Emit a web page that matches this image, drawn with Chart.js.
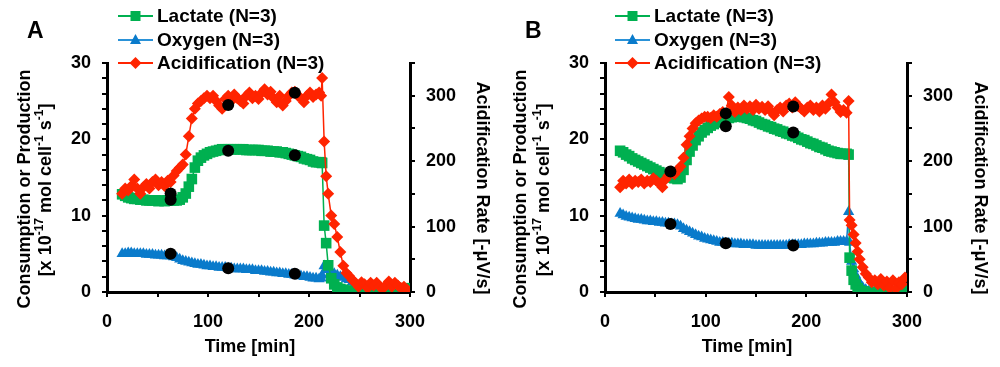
<!DOCTYPE html>
<html>
<head>
<meta charset="utf-8">
<script src="https://cdn.jsdelivr.net/npm/chart.js@4.4.1/dist/chart.umd.min.js"></script>
<style>
  html, body { margin: 0; padding: 0; background: #fff; }
  #wrap { position: relative; width: 1000px; height: 367px; }
  .panel { position: absolute; top: 0; width: 500px; height: 367px; }
</style>
</head>
<body>
<div id="wrap">
  <div class="panel" style="left:0"><canvas id="cA" width="500" height="367"></canvas></div>
  <div class="panel" style="left:500px"><canvas id="cB" width="500" height="367"></canvas></div>
</div>
<script>
// ---------------- DATA ----------------
const seriesLabels = ['Lactate (N=3)', 'Oxygen (N=3)', 'Acidification (N=3)'];
const xTickLabels = [0, 100, 200, 300];
const leftTickLabels = [0, 10, 20, 30];
const rightTickLabels = [0, 100, 200, 300];

// Panel A
const timeA = [15,18,21,24,27,30,33,36,39,42, 45,48,51,54,57,60,63,66,69,72,
  75,78,81,84,87,90,93,96,99,102, 105,108,111,114,117,120,123,126,129,132,
  135,138,141,144,147,150,153,156,159,162, 165,168,171,174,177,180,183,186,189,192,
  195,198,201,204,207,210,212,213,215,217, 219,222,225,228,231,234,237,240,243,246,
  249,252,255,258,261,264,267,270,273,276, 279,282,285,288,291,294,297];
const lactateA = [12.8,12.6,12.4,12.3,12.2,12.2,12.1,12.1,12.0,12.0,
  12.0,12.0,11.9,12.0,11.9,12.0,12.0,12.0,12.0,12.1,
  12.4,12.9,13.8,14.8,16.3,17.2,17.6,17.9,18.1,18.3,
  18.4,18.5,18.6,18.7,18.7,18.7,18.7,18.7,18.7,18.7,
  18.7,18.6,18.6,18.6,18.6,18.6,18.5,18.5,18.5,18.4,
  18.4,18.4,18.3,18.3,18.2,18.1,18.0,17.9,17.8,17.7,
  17.5,17.4,17.3,17.1,17.0,17.0,17.0,16.9,8.7,6.4,
  3.5,1.8,1.0,0.6,0.4,0.3,0.2,0.1,0.1,0.0,
  0.0,0.0,0.0,0.0,0.0,0.0,0.0,0.0,0.0,0.0,
  0.0,0.1,0.2,0.3,0.4,0.3,0.5];
const oxygenA = [5.0,5.0,5.1,5.1,5.0,5.0,5.0,5.0,4.9,4.9,
  4.9,4.8,4.8,4.8,4.7,4.7,4.7,4.6,4.5,4.3,
  4.1,4.0,3.9,3.8,3.7,3.6,3.6,3.5,3.4,3.4,
  3.3,3.3,3.2,3.2,3.2,3.1,3.1,3.0,3.0,3.0,
  3.0,2.9,2.9,2.9,2.8,2.8,2.8,2.7,2.7,2.6,
  2.6,2.5,2.5,2.4,2.4,2.3,2.3,2.2,2.2,2.1,
  2.0,2.0,1.9,1.8,1.8,1.7,1.8,2.2,3.4,3.0,
  2.9,2.6,2.4,2.2,2.0,1.9,1.7,1.6,1.3,1.1,
  0.7,0.4,0.2,0.1,0.0,0.0,0.0,0.0,0.0,0.0,
  0.0,0.0,null,null,null,null,null];
const acidA = [150,158,155,162,172,158,150,160,165,158,
  168,172,163,168,162,170,168,178,185,190,
  195,210,238,265,280,288,292,296,300,296,
  300,292,285,280,295,300,292,302,296,292,
  288,300,305,296,300,295,304,310,302,306,
  296,290,300,285,292,300,305,306,300,296,
  290,300,305,298,302,305,300,327,230,177,
  150,117,104,84,61,40,29,24,18,14,
  8,15,12,6,14,10,14,8,5,10,
  16,8,14,10,6,8,4];
const dotTimeA = [63,63,63,120,120,120,186,186,186];
const dotValueA = [12.9,12.1,5.0,24.5,18.5,3.1,26.1,17.9,2.4];

// Panel B
const timeB = [15,18,21,24,27,30,33,36,39,42, 45,48,51,54,57,60,63,66,69,72,
  75,78,81,84,87,90,93,96,99,102, 105,108,111,114,117,120,123,126,129,132,
  135,138,141,144,147,150,153,156,159,162, 165,168,171,174,177,180,183,186,189,192,
  195,198,201,204,207,210,213,216,219,222, 225,228,231,234,237,240,242,243,245,247,
  249,251,253,256,259,262,265,268,271,274, 277,280,283,286,289,292,295,298];
const lactateB = [18.5,18.3,18.0,17.8,17.5,17.3,17.1,16.9,16.7,16.5,
  16.3,16.1,15.9,15.7,15.5,15.3,15.1,15.0,14.9,14.8,
  15.0,16.0,17.3,18.4,19.2,19.9,20.4,20.9,21.2,21.5,
  21.8,22.0,22.2,22.4,22.6,22.7,22.8,22.9,23.0,23.0,
  23.0,22.9,22.8,22.7,22.5,22.4,22.2,22.0,21.9,21.7,
  21.6,21.4,21.3,21.1,21.0,20.8,20.7,20.5,20.4,20.2,
  20.0,19.9,19.7,19.5,19.4,19.2,19.0,18.9,18.7,18.5,
  18.4,18.3,18.2,18.1,18.1,18.1,18.0,4.5,2.8,1.6,
  1.0,0.5,0.2,0.1,0.0,0.0,0.0,0.0,0.0,0.0,
  0.0,0.0,0.0,0.0,0.0,0.2,0.4,0.5];
const oxygenB = [10.3,10.1,9.9,9.8,9.7,9.6,9.5,9.5,9.4,9.3,
  9.3,9.2,9.2,9.1,9.1,9.0,9.0,8.9,8.9,8.8,
  8.6,8.3,8.1,7.9,7.7,7.5,7.3,7.2,7.0,6.9,
  6.8,6.7,6.6,6.5,6.5,6.4,6.4,6.4,6.3,6.3,
  6.3,6.2,6.2,6.2,6.2,6.1,6.1,6.1,6.1,6.1,
  6.1,6.1,6.1,6.1,6.1,6.1,6.2,6.2,6.2,6.2,
  6.2,6.3,6.3,6.3,6.3,6.4,6.4,6.4,6.5,6.5,
  6.5,6.5,6.6,6.6,6.6,6.6,10.5,6.5,4.0,3.0,
  2.2,1.6,1.1,0.6,0.3,0.1,0.0,0.0,0.0,0.0,
  0.0,0.0,0.0,0.0,null,null,null,null];
const acidB = [160,170,166,172,165,170,168,172,166,170,
  168,174,170,166,160,172,178,184,180,186,
  192,205,225,238,250,258,262,265,268,268,
  266,270,268,272,275,272,298,285,275,282,
  278,285,280,284,278,286,280,283,278,284,
  276,270,278,282,276,285,288,282,290,284,
  280,276,282,285,278,282,276,285,280,288,
  302,290,282,275,278,274,292,110,102,88,
  75,62,50,38,28,22,15,18,12,20,
  10,16,6,18,5,15,12,22];
const dotTimeB = [65,65,120,120,120,187,187,187];
const dotValueB = [15.8,8.9,23.4,21.7,6.4,24.3,20.9,6.1];

// ---------------- STYLE ----------------
const FONT = '"Liberation Sans", Arial, Helvetica, sans-serif';
const GREEN = '#00B050';
const BLUE = '#0A7BCB';
const RED = '#FF2400';
Chart.defaults.font.family = FONT;

function pts(t, v) { return t.map((x, i) => ({ x: x, y: v[i] })); }

function drawMarker(ctx, kind, cx, cy, color) {
  ctx.fillStyle = color;
  ctx.beginPath();
  if (kind === 'rect') {
    ctx.rect(cx - 5, cy - 5, 10, 10);
  } else if (kind === 'triangle') {
    ctx.moveTo(cx, cy - 6); ctx.lineTo(cx + 5.5, cy + 4); ctx.lineTo(cx - 5.5, cy + 4); ctx.closePath();
  } else {
    ctx.moveTo(cx, cy - 6); ctx.lineTo(cx + 6, cy); ctx.lineTo(cx, cy + 6); ctx.lineTo(cx - 6, cy); ctx.closePath();
  }
  ctx.fill();
}

function drawRich(ctx, parts) {
  const big = 'bold 18px ' + FONT, small = 'bold 12px ' + FONT;
  let w = 0;
  parts.forEach(p => { ctx.font = p.sup ? small : big; w += ctx.measureText(p.t).width; });
  let x = -w / 2;
  parts.forEach(p => {
    ctx.font = p.sup ? small : big;
    ctx.fillText(p.t, x, p.sup ? -6 : 0);
    x += ctx.measureText(p.t).width;
  });
}

const decor = {
  id: 'decor',
  afterDraw(chart, args, o) {
    const ctx = chart.ctx;
    ctx.save();
    ctx.fillStyle = '#000';
    // panel letter
    ctx.font = 'bold 23px ' + FONT;
    ctx.textAlign = 'left';
    ctx.textBaseline = 'alphabetic';
    ctx.fillText(o.letter, o.letterX, 38);
    // legend
    const kinds = ['rect', 'triangle', 'rectRot'];
    const cols = [GREEN, '#2A92D8', RED];
    const rows = [16, 40, 63];
    ctx.textBaseline = 'middle';
    for (let i = 0; i < 3; i++) {
      ctx.strokeStyle = cols[i];
      ctx.lineWidth = 2;
      ctx.beginPath();
      ctx.moveTo(o.legendX, rows[i]);
      ctx.lineTo(o.legendX + 35, rows[i]);
      ctx.stroke();
      drawMarker(ctx, kinds[i], o.legendX + 17.5, rows[i], i === 1 ? BLUE : cols[i]);
      ctx.fillStyle = '#000';
      ctx.font = 'bold 19px ' + FONT;
      ctx.textAlign = 'left';
      ctx.fillText(seriesLabels[i], o.legendX + 39, rows[i] + 1);
    }
    // left title (two lines)
    ctx.save();
    ctx.translate(o.yT1, 189);
    ctx.rotate(-Math.PI / 2);
    ctx.font = 'bold 18px ' + FONT;
    ctx.textAlign = 'center';
    ctx.fillText('Consumption or Production', 0, 0);
    ctx.restore();
    ctx.save();
    ctx.translate(o.yT2, 190);
    ctx.rotate(-Math.PI / 2);
    ctx.textAlign = 'left';
    drawRich(ctx, [{t: '[x 10'}, {t: '-17', sup: true}, {t: ' mol cell'}, {t: '-1', sup: true},
      {t: ' s'}, {t: '-1', sup: true}, {t: ']'}]);
    ctx.restore();
    // right title
    ctx.save();
    ctx.translate(o.rT, 188);
    ctx.rotate(Math.PI / 2);
    ctx.font = 'bold 18px ' + FONT;
    ctx.textAlign = 'center';
    ctx.fillText('Acidification Rate [-\u03BCV/s]', 0, 0);
    ctx.restore();
    // x title
    ctx.font = 'bold 18px ' + FONT;
    ctx.textAlign = 'center';
    ctx.fillText('Time [min]', o.xT, 347);
    ctx.restore();
  }
};

function makeChart(id, t, lac, oxy, acid, dt, dv, leftW, rightW, o) {
  const tickFont = { size: 18, weight: 'bold' };
  const grid = { drawOnChartArea: false, color: '#000', lineWidth: 2, tickLength: 5, tickWidth: 2, tickColor: '#000' };
  const border = { color: '#000', width: 3 };
  return new Chart(document.getElementById(id), {
    type: 'line',
    data: {
      datasets: [
        { label: 'points', data: pts(dt, dv), yAxisID: 'y', showLine: false,
          pointStyle: 'circle', pointRadius: 6, pointBackgroundColor: '#000', pointBorderWidth: 0,
          borderColor: '#000', backgroundColor: '#000' },
        { label: seriesLabels[2], data: pts(t, acid), yAxisID: 'y1',
          borderColor: RED, backgroundColor: RED, borderWidth: 1.5,
          pointStyle: 'rectRot', pointRadius: 6, pointBorderWidth: 0, pointBackgroundColor: RED },
        { label: seriesLabels[0], data: pts(t, lac), yAxisID: 'y',
          borderColor: GREEN, backgroundColor: GREEN, borderWidth: 1.5,
          pointStyle: 'rect', pointRadius: 7.5, pointBorderWidth: 0, pointBackgroundColor: GREEN },
        { label: seriesLabels[1], data: pts(t, oxy), yAxisID: 'y',
          borderColor: BLUE, backgroundColor: BLUE, borderWidth: 1.5,
          pointStyle: 'triangle', pointRadius: 6.5, pointBorderWidth: 0, pointBackgroundColor: BLUE }
      ]
    },
    options: {
      responsive: false,
      animation: false,
      devicePixelRatio: 1,
      layout: { padding: { top: 63, left: 0, right: 0, bottom: 0 } },
      plugins: { legend: { display: false }, tooltip: { enabled: false }, decor: o },
      elements: { line: { tension: 0 } },
      scales: {
        x: {
          type: 'linear', min: 0, max: 300,
          afterFit: s => { s.height = 75; },
          ticks: { stepSize: 50, autoSkip: false, maxRotation: 0, padding: 14, color: '#000', font: tickFont,
            callback: v => xTickLabels.includes(v) ? String(v) : '' },
          grid: grid, border: border
        },
        y: {
          position: 'left', min: 0, max: 30,
          afterFit: s => { s.width = leftW; },
          ticks: { stepSize: 2, autoSkip: false, padding: 11, color: '#000', font: tickFont,
            callback: v => leftTickLabels.includes(v) ? String(v) : '' },
          grid: grid, border: border
        },
        y1: {
          position: 'right', min: 0, max: 350,
          afterFit: s => { s.width = rightW; },
          ticks: { stepSize: 50, autoSkip: false, padding: 11, color: '#000', font: tickFont,
            callback: v => rightTickLabels.includes(v) ? String(v) : '' },
          grid: grid, border: border
        }
      }
    },
    plugins: [decor]
  });
}

makeChart('cA', timeA, lactateA, oxygenA, acidA, dotTimeA, dotValueA, 107, 90,
  { letter: 'A', letterX: 27, legendX: 118, yT1: 25, yT2: 46, rT: 482, xT: 250 });
makeChart('cB', timeB, lactateB, oxygenB, acidB, dotTimeB, dotValueB, 105, 93,
  { letter: 'B', letterX: 25, legendX: 115, yT1: 21, yT2: 44, rT: 480, xT: 247 });
</script>
</body>
</html>
